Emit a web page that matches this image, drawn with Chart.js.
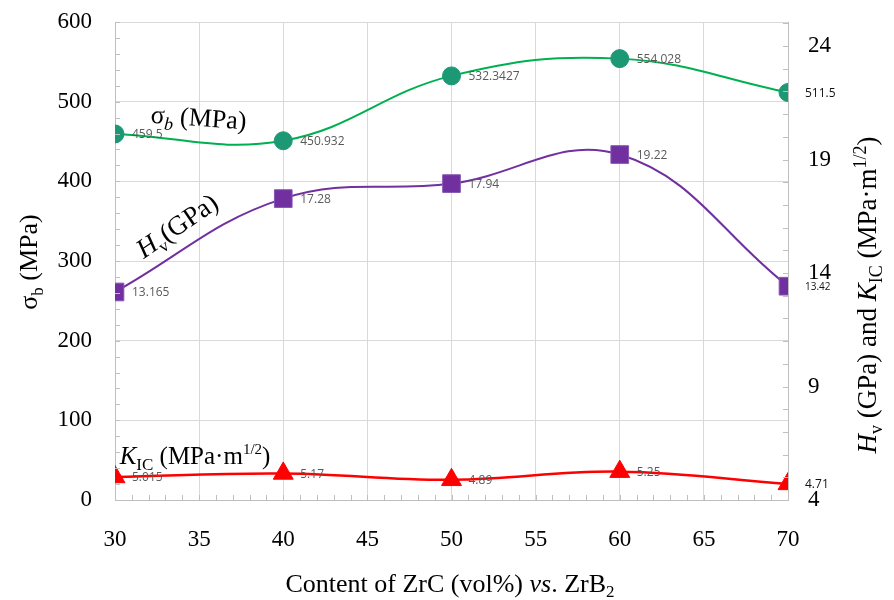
<!DOCTYPE html>
<html>
<head>
<meta charset="utf-8">
<script src="https://cdn.jsdelivr.net/npm/chart.js@4"></script>
<style>
  html, body { margin: 0; padding: 0; background: #fff; }
  #wrap { width: 894px; height: 600px; }
</style>
</head>
<body>
<div id="wrap"><canvas id="main-chart" width="894" height="600"></canvas></div>
<script>
// ---- Data ----
const zrcContent = [30, 40, 50, 60, 70];
const sigmaB     = [459.5, 450.932, 532.3427, 554.028, 511.5];
const hv         = [13.165, 17.28, 17.94, 19.22, 13.42];
const kic        = [5.015, 5.17, 4.89, 5.25, 4.71];
const sigmaLbl   = ['459.5', '450.932', '532.3427', '554.028', '511.5'];
const hvLbl      = ['13.165', '17.28', '17.94', '19.22', '13.42'];
const kicLbl     = ['5.015', '5.17', '4.89', '5.25', '4.71'];
const rightTicks = [4, 9, 14, 19, 24];

const SERIF = "'Liberation Serif', 'Times New Roman', serif";
const SANS  = "'Open Sans', 'Liberation Sans', sans-serif";

const pts = vals => vals.map((v, i) => ({ x: zrcContent[i], y: v }));

// draw text made of runs: [text, fontStyle, size, dy]
function drawRuns(ctx, x, y, runs, angle) {
  ctx.save();
  ctx.translate(x, y);
  ctx.rotate(angle || 0);
  ctx.fillStyle = '#000';
  ctx.textBaseline = 'alphabetic';
  ctx.textAlign = 'left';
  let total = 0;
  runs.forEach(([t, st, sz]) => { ctx.font = `${st} ${sz}px ${SERIF}`; total += ctx.measureText(t).width; });
  let cx = -total / 2;
  runs.forEach(([t, st, sz, dy]) => {
    ctx.font = `${st} ${sz}px ${SERIF}`;
    ctx.fillText(t, cx, dy || 0);
    cx += ctx.measureText(t).width;
  });
  ctx.restore();
}

// keep the plot area fixed: drop the label overhang padding
const fixY = w => s => { s.width = w; s.paddingTop = 0; s.paddingBottom = 0; };

const extras = {
  id: 'extras',
  afterDraw(chart) {
    const { ctx, chartArea: { left, right, top, bottom }, scales: { x, y, y2 } } = chart;
    ctx.save();
    // minor ticks
    ctx.strokeStyle = '#bfbfbf';
    ctx.lineWidth = 1;
    ctx.beginPath();
    for (let v = 0; v <= 600; v += 20) {
      const p = Math.round(y.getPixelForValue(v)) + 0.5;
      ctx.moveTo(left, p); ctx.lineTo(left + 5, p);
    }
    for (let v = 4; v <= 25; v += 1) {
      const p = Math.round(y2.getPixelForValue(v)) + 0.5;
      ctx.moveTo(right - 5, p); ctx.lineTo(right, p);
    }
    for (let v = 30; v <= 70; v += 1) {
      const p = Math.round(x.getPixelForValue(v)) + 0.5;
      ctx.moveTo(p, bottom - 5); ctx.lineTo(p, bottom);
    }
    ctx.stroke();
    ctx.restore();

    // axis titles
    ctx.save();
    ctx.translate(37, 262);
    ctx.rotate(-Math.PI / 2);
    drawRuns(ctx, 0, 0, [['σ', '', 26], ['b', '', 17, 6], [' (MPa)', '', 26]]);
    ctx.restore();

    ctx.save();
    ctx.translate(876, 295);
    ctx.rotate(-Math.PI / 2);
    drawRuns(ctx, 0, 0, [
      ['H', 'italic', 27], ['v', '', 18, 6], [' (GPa) and ', '', 27],
      ['K', 'italic', 27], ['IC', '', 18, 6], [' (MPa·m', '', 27], ['1/2', '', 18, -10], [')', '', 27]
    ]);
    ctx.restore();

    drawRuns(ctx, 450, 592, [
      ['Content of ZrC (vol%) ', '', 26], ['vs', 'italic', 26], ['. ZrB', '', 26], ['2', '', 17, 5]
    ]);

    // in-plot series labels
    drawRuns(ctx, 198, 126, [['σ', '', 26], ['b', 'italic', 18, 6], [' (MPa)', '', 26]], 0.07);
    drawRuns(ctx, 182, 233, [['H', 'italic', 27], ['v', '', 17, 6], ['(GPa)', '', 27]], -0.6);
    drawRuns(ctx, 195, 464, [['K', 'italic', 25], ['IC', '', 17, 6], [' (MPa·m', '', 25], ['1/2', '', 15, -10], [')', '', 25]]);

    // data labels
    const sets = [sigmaLbl, hvLbl, kicLbl];
    sets.forEach((lbls, di) => {
      const meta = chart.getDatasetMeta(di);
      meta.data.forEach((el, i) => {
        const last = i === lbls.length - 1;
        ctx.save();
        ctx.fillStyle = last ? '#111' : '#595959';
        ctx.font = `${last && di === 1 ? 10 : 12}px ${SANS}`;
        ctx.textBaseline = 'middle';
        ctx.textAlign = 'left';
        ctx.fillText(lbls[i], el.x + 17, el.y + 1);
        ctx.restore();
      });
    });
  }
};

new Chart(document.getElementById('main-chart'), {
  type: 'scatter',
  data: {
    datasets: [
      {
        label: 'σb',
        data: pts(sigmaB),
        yAxisID: 'y',
        showLine: true,
        borderColor: '#00b050',
        borderWidth: 2,
        tension: 0.4,
        pointStyle: 'circle',
        pointRadius: 9,
        pointBackgroundColor: '#1c9875',
        pointBorderColor: '#1c9875',
        pointBorderWidth: 1,
      },
      {
        label: 'Hv',
        data: pts(hv),
        yAxisID: 'y2',
        showLine: true,
        borderColor: '#7030a0',
        borderWidth: 2,
        tension: 0.4,
        pointStyle: 'rect',
        pointRadius: 12.5,
        pointBackgroundColor: '#7030a0',
        pointBorderColor: '#8a55b5',
        pointBorderWidth: 1,
      },
      {
        label: 'KIC',
        data: pts(kic),
        yAxisID: 'y2',
        showLine: true,
        borderColor: '#ff0000',
        borderWidth: 2.5,
        tension: 0.4,
        pointStyle: 'triangle',
        pointRadius: 11.5,
        pointBackgroundColor: '#ff0000',
        pointBorderColor: '#ff0000',
        pointBorderWidth: 1,
      }
    ]
  },
  options: {
    responsive: false,
    animation: false,
    events: [],
    layout: { padding: { top: 22, left: 0, right: 0, bottom: 0 } },
    plugins: { legend: { display: false }, tooltip: { enabled: false } },
    scales: {
      x: {
        type: 'linear',
        min: 30, max: 70,
        afterFit: s => { s.height = 100; },
        grid: { color: '#d9d9d9', drawTicks: false },
        border: { color: '#bfbfbf' },
        ticks: { stepSize: 5, padding: 26, color: '#000', font: { family: SERIF, size: 23 } }
      },
      y: {
        position: 'left',
        min: 0, max: 600,
        afterFit: fixY(115),
        grid: { color: '#d9d9d9', drawTicks: false },
        border: { color: '#bfbfbf' },
        ticks: { stepSize: 100, padding: 23, color: '#000', font: { family: SERIF, size: 23 } }
      },
      y2: {
        position: 'right',
        min: 4, max: 25.06,
        afterFit: fixY(106),
        afterBuildTicks: s => { s.ticks = rightTicks.map(v => ({ value: v })); },
        grid: { display: false, drawTicks: false },
        border: { color: '#bfbfbf' },
        ticks: { padding: 20, color: '#000', font: { family: SERIF, size: 23 } }
      }
    }
  },
  plugins: [extras]
});
</script>
</body>
</html>
